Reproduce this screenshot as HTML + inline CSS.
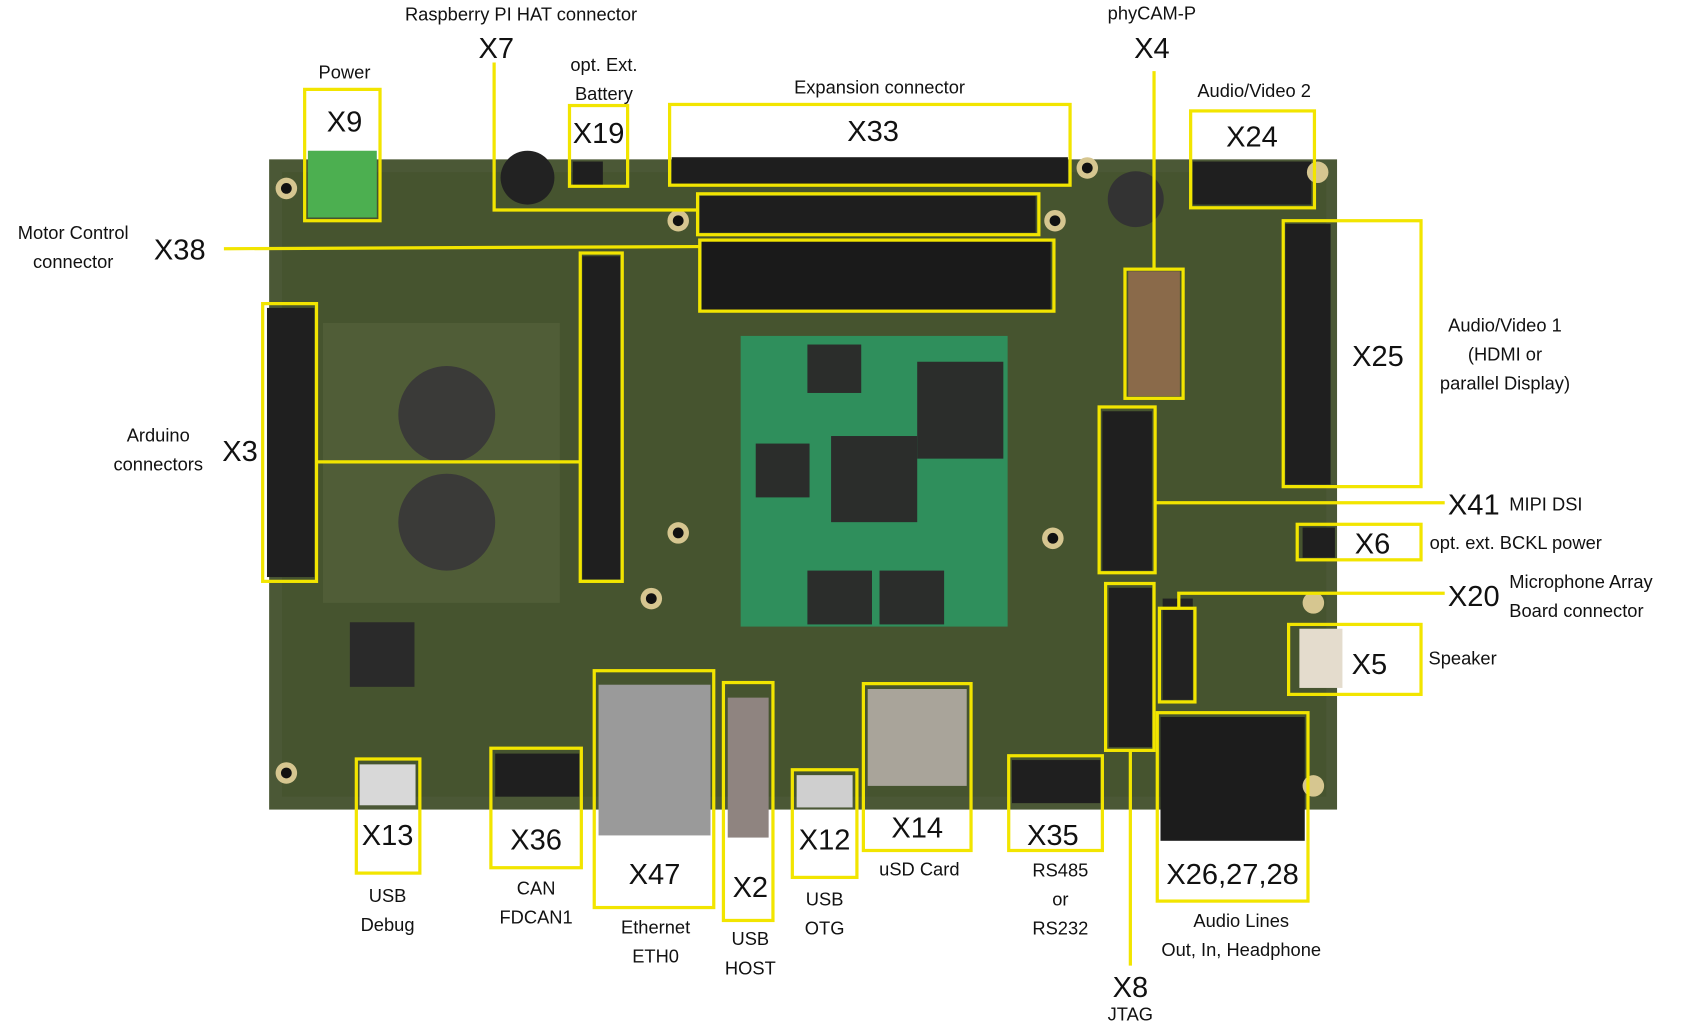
<!DOCTYPE html>
<html><head><meta charset="utf-8"><style>
html,body{margin:0;padding:0;background:#fff}
svg{display:block}
text{font-family:"Liberation Sans",sans-serif;fill:#111}
.s{font-size:17px}
.b{font-size:27px}
.y{fill:none;stroke:#f2e500;stroke-width:3}
</style></head><body>
<svg width="1688" height="1026" viewBox="0 0 1568 953" xmlns="http://www.w3.org/2000/svg">
<!-- board -->
<rect x="250" y="148" width="992" height="604" fill="#4b5836"/>
<rect x="262" y="160" width="970" height="580" fill="#46542f"/>
<path d="M300 300 L520 300 L520 560 L300 560 Z" fill="#56643e" opacity="0.6"/>
<!-- module -->
<rect x="688" y="312" width="248" height="270" fill="#2f8f5c"/>
<rect x="772" y="405" width="80" height="80" fill="#2b2d2b"/>
<rect x="852" y="336" width="80" height="90" fill="#2b2d2b"/>
<rect x="750" y="530" width="60" height="50" fill="#2b2d2b"/>
<rect x="817" y="530" width="60" height="50" fill="#2b2d2b"/>
<rect x="702" y="412" width="50" height="50" fill="#2b2d2b"/>
<rect x="750" y="320" width="50" height="45" fill="#2b2d2b"/>
<!-- headers -->
<rect x="624" y="146" width="368" height="25" fill="#1e1e1e"/>
<rect x="650" y="182" width="312" height="34" fill="#1e1e1e"/>
<rect x="652" y="224" width="324" height="64" fill="#1a1a1a"/>
<rect x="248" y="286" width="44" height="250" fill="#1f1f1f"/>
<rect x="541" y="238" width="35" height="300" fill="#1f1f1f"/>
<rect x="1194" y="208" width="42" height="242" fill="#1f1f1f"/>
<rect x="1108" y="150" width="110" height="40" fill="#1f1f1f"/>
<rect x="1024" y="382" width="46" height="148" fill="#1f1f1f"/>
<rect x="1030" y="546" width="40" height="148" fill="#1f1f1f"/>
<rect x="1080" y="556" width="28" height="94" fill="#222"/>
<rect x="1048" y="252" width="48" height="116" fill="#8a6a4a"/>
<rect x="940" y="706" width="82" height="40" fill="#1f1f1f"/>
<rect x="460" y="700" width="78" height="40" fill="#1f1f1f"/>
<rect x="1078" y="666" width="134" height="115" fill="#1c1c1c"/>
<rect x="556" y="636" width="104" height="140" fill="#9a9a9a"/>
<rect x="676" y="648" width="38" height="130" fill="#8f8480"/>
<rect x="806" y="640" width="92" height="90" fill="#a9a49a"/>
<rect x="740" y="720" width="52" height="30" fill="#cfcfcf"/>
<rect x="334" y="710" width="52" height="38" fill="#d8d8d8"/>
<rect x="286" y="140" width="64" height="62" fill="#4caf50"/>
<rect x="1207" y="584" width="40" height="55" fill="#e4dccd"/>
<rect x="1210" y="490" width="30" height="28" fill="#1f1f1f"/>
<rect x="532" y="150" width="28" height="22" fill="#1f1f1f"/>
<circle cx="415" cy="385" r="45" fill="#3a3a38"/><circle cx="415" cy="485" r="45" fill="#3a3a38"/>
<circle cx="1055" cy="185" r="26" fill="#333"/>
<circle cx="490" cy="165" r="25" fill="#222"/>
<rect x="325" y="578" width="60" height="60" fill="#2a2a2a"/>
<g fill="#d6c690"><circle cx="266" cy="175" r="10"/><circle cx="266" cy="718" r="10"/><circle cx="630" cy="205" r="10"/><circle cx="980" cy="205" r="10"/><circle cx="630" cy="495" r="10"/><circle cx="978" cy="500" r="10"/><circle cx="605" cy="556" r="10"/><circle cx="1010" cy="156" r="10"/><circle cx="1220" cy="730" r="10"/><circle cx="1220" cy="560" r="10"/><circle cx="1224" cy="160" r="10"/></g>
<g fill="#111"><circle cx="266" cy="175" r="5"/><circle cx="266" cy="718" r="5"/><circle cx="630" cy="205" r="5"/><circle cx="980" cy="205" r="5"/><circle cx="630" cy="495" r="5"/><circle cx="978" cy="500" r="5"/><circle cx="605" cy="556" r="5"/><circle cx="1010" cy="156" r="5"/></g>
<!-- yellow boxes & lines -->
<rect class="y" x="283" y="83" width="70" height="122"/>
<polyline class="y" points="459,58 459,195 648,195"/>
<rect class="y" x="648" y="180" width="317" height="38"/>
<rect class="y" x="529" y="98" width="54" height="75"/>
<rect class="y" x="622" y="97" width="372" height="75"/>
<line class="y" x1="208" y1="231" x2="650" y2="229"/>
<rect class="y" x="650" y="223" width="329" height="66"/>
<line class="y" x1="1072" y1="66" x2="1072" y2="250"/>
<rect class="y" x="1045" y="250" width="54" height="120"/>
<rect class="y" x="1106" y="103" width="115" height="90"/>
<rect class="y" x="1192" y="205" width="128" height="247"/>
<rect class="y" x="1021" y="378" width="52" height="154"/>
<line class="y" x1="1073" y1="467" x2="1342" y2="467"/>
<rect class="y" x="1205" y="487" width="115" height="33"/>
<rect class="y" x="1077" y="565" width="33" height="87"/>
<polyline class="y" points="1095,565 1095,551 1342,551"/>
<rect class="y" x="1197" y="580" width="123" height="65"/>
<rect class="y" x="1027" y="542" width="45" height="155"/>
<line class="y" x1="1050" y1="697" x2="1050" y2="897"/>
<rect class="y" x="1075" y="662" width="140" height="175"/>
<rect class="y" x="937" y="702" width="87" height="88"/>
<rect class="y" x="802" y="635" width="100" height="155"/>
<rect class="y" x="736" y="715" width="60" height="100"/>
<rect class="y" x="672" y="634" width="46" height="221"/>
<rect class="y" x="552" y="623" width="111" height="220"/>
<rect class="y" x="456" y="695" width="84" height="111"/>
<rect class="y" x="331" y="705" width="59" height="106"/>
<rect class="y" x="244" y="282" width="50" height="258"/>
<line class="y" x1="294" y1="429" x2="539" y2="429"/>
<rect class="y" x="539" y="235" width="39" height="305"/>
<!-- labels -->
<g text-anchor="middle">
<text class="s" x="320" y="73">Power</text><text class="b" x="320" y="122">X9</text>
<text class="s" x="484" y="19">Raspberry PI HAT connector</text><text class="b" x="461" y="54">X7</text>
<text class="s" x="561" y="66">opt. Ext.</text><text class="s" x="561" y="93">Battery</text><text class="b" x="556" y="133">X19</text>
<text class="s" x="817" y="87">Expansion connector</text><text class="b" x="811" y="131">X33</text>
<text class="s" x="68" y="222">Motor Control</text><text class="s" x="68" y="249">connector</text><text class="b" x="167" y="241">X38</text>
<text class="s" x="1070" y="18">phyCAM-P</text><text class="b" x="1070" y="54">X4</text>
<text class="s" x="1165" y="90">Audio/Video 2</text><text class="b" x="1163" y="136">X24</text>
<text class="b" x="1280" y="340">X25</text>
<text class="s" x="1398" y="308">Audio/Video 1</text><text class="s" x="1398" y="335">(HDMI or</text><text class="s" x="1398" y="362">parallel Display)</text>
<text class="b" x="1275" y="514">X6</text>
<text class="b" x="1272" y="626">X5</text>
<text class="b" x="1050" y="926">X8</text><text class="s" x="1050" y="948">JTAG</text>
<text class="b" x="1145" y="821">X26,27,28</text>
<text class="s" x="1153" y="861">Audio Lines</text><text class="s" x="1153" y="888">Out, In, Headphone</text>
<text class="b" x="978" y="785">X35</text>
<text class="s" x="985" y="814">RS485</text><text class="s" x="985" y="841">or</text><text class="s" x="985" y="868">RS232</text>
<text class="b" x="852" y="778">X14</text><text class="s" x="854" y="813">uSD Card</text>
<text class="b" x="766" y="789">X12</text><text class="s" x="766" y="841">USB</text><text class="s" x="766" y="868">OTG</text>
<text class="b" x="697" y="833">X2</text><text class="s" x="697" y="878">USB</text><text class="s" x="697" y="905">HOST</text>
<text class="b" x="608" y="821">X47</text><text class="s" x="609" y="867">Ethernet</text><text class="s" x="609" y="894">ETH0</text>
<text class="b" x="498" y="789">X36</text><text class="s" x="498" y="831">CAN</text><text class="s" x="498" y="858">FDCAN1</text>
<text class="b" x="360" y="785">X13</text><text class="s" x="360" y="838">USB</text><text class="s" x="360" y="865">Debug</text>
<text class="s" x="147" y="410">Arduino</text><text class="s" x="147" y="437">connectors</text><text class="b" x="223" y="428">X3</text>
</g>
<text class="b" x="1345" y="478">X41</text><text class="s" x="1402" y="474">MIPI DSI</text>
<text class="s" x="1328" y="510">opt. ext. BCKL power</text>
<text class="b" x="1345" y="563">X20</text>
<text class="s" x="1402" y="546">Microphone Array</text><text class="s" x="1402" y="573">Board connector</text>
<text class="s" x="1327" y="617">Speaker</text>
</svg>
</body></html>
